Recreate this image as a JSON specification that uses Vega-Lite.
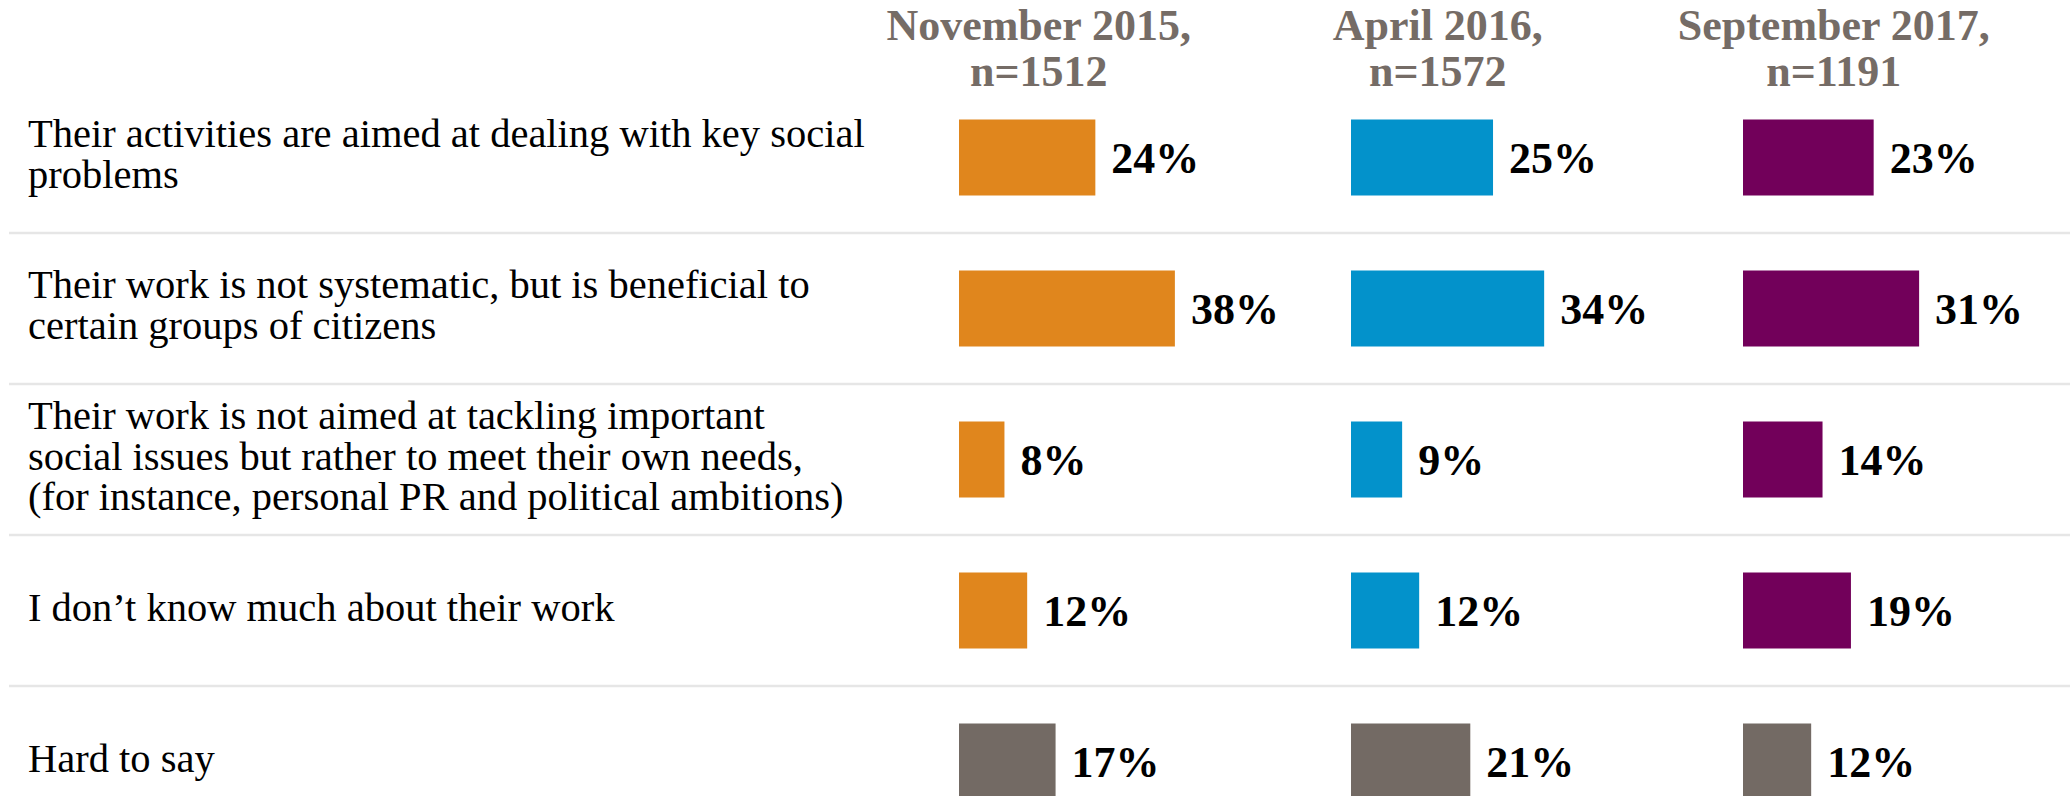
{
  "$schema": "https://vega.github.io/schema/vega-lite/v6.json",
  "padding": {"left": 7, "top": 4, "right": 0, "bottom": 0},
  "background": "white",
  "spacing": 0,
  "bounds": "flush",
  "config": {"view": {"stroke": null}, "concat": {"spacing": 0}},
  "datasets": {
    "bars": [
      {"wave": "Nov 2015", "category": "Their activities are aimed at dealing with key social problems", "value": 0.24},
      {"wave": "Nov 2015", "category": "Their work is not systematic, but is beneficial to certain groups of citizens", "value": 0.38},
      {"wave": "Nov 2015", "category": "Their work is not aimed at tackling important social issues but rather to meet their own needs, (for instance, personal PR and political ambitions)", "value": 0.08},
      {"wave": "Nov 2015", "category": "I don’t know much about their work", "value": 0.12},
      {"wave": "Nov 2015", "category": "Hard to say", "value": 0.17},
      {"wave": "Apr 2016", "category": "Their activities are aimed at dealing with key social problems", "value": 0.25},
      {"wave": "Apr 2016", "category": "Their work is not systematic, but is beneficial to certain groups of citizens", "value": 0.34},
      {"wave": "Apr 2016", "category": "Their work is not aimed at tackling important social issues but rather to meet their own needs, (for instance, personal PR and political ambitions)", "value": 0.09},
      {"wave": "Apr 2016", "category": "I don’t know much about their work", "value": 0.12},
      {"wave": "Apr 2016", "category": "Hard to say", "value": 0.21},
      {"wave": "Sep 2017", "category": "Their activities are aimed at dealing with key social problems", "value": 0.23},
      {"wave": "Sep 2017", "category": "Their work is not systematic, but is beneficial to certain groups of citizens", "value": 0.31},
      {"wave": "Sep 2017", "category": "Their work is not aimed at tackling important social issues but rather to meet their own needs, (for instance, personal PR and political ambitions)", "value": 0.14},
      {"wave": "Sep 2017", "category": "I don’t know much about their work", "value": 0.19},
      {"wave": "Sep 2017", "category": "Hard to say", "value": 0.12}
    ],
    "labels": [
      {"category": "Their activities are aimed at dealing with key social problems", "lines": ["Their activities are aimed at dealing with key social", "problems"]},
      {"category": "Their work is not systematic, but is beneficial to certain groups of citizens", "lines": ["Their work is not systematic, but is beneficial to", "certain groups of citizens"]},
      {"category": "Their work is not aimed at tackling important social issues but rather to meet their own needs, (for instance, personal PR and political ambitions)", "lines": ["Their work is not aimed at tackling important", "social issues but rather to meet their own needs,", "(for instance, personal PR and political ambitions)"]},
      {"category": "I don’t know much about their work", "lines": ["I don’t know much about their work"]},
      {"category": "Hard to say", "lines": ["Hard to say"]}
    ],
    "seps": [
      {"category": "Their work is not systematic, but is beneficial to certain groups of citizens"},
      {"category": "Their work is not aimed at tackling important social issues but rather to meet their own needs, (for instance, personal PR and political ambitions)"},
      {"category": "I don’t know much about their work"},
      {"category": "Hard to say"}
    ]
  },
  "hconcat": [
    {
      "width": 950,
      "height": 714.5,
      "layer": [
        {
          "data": {"name": "seps"},
          "mark": {"type": "rule", "color": "#E6E6E6", "strokeWidth": 2.5},
          "encoding": {
            "y": {"field": "category", "type": "nominal", "bandPosition": 0, "axis": null,
              "scale": {"domain": ["Their activities are aimed at dealing with key social problems", "Their work is not systematic, but is beneficial to certain groups of citizens", "Their work is not aimed at tackling important social issues but rather to meet their own needs, (for instance, personal PR and political ambitions)", "I don’t know much about their work", "Hard to say"], "range": [0, 755], "paddingInner": 0, "paddingOuter": 0}}
          }
        },
        {
          "data": {"name": "labels"},
          "transform": [{"filter": "length(datum.lines) === 1"}],
          "mark": {"type": "text", "align": "left", "baseline": "middle", "dx": 19, "dy": -2, "font": "Liberation Serif", "fontSize": 40.5, "lineHeight": 40.5, "color": "#000000"},
          "encoding": {
            "x": {"datum": 0, "type": "quantitative", "scale": {"domain": [0, 1]}, "axis": null},
            "y": {"field": "category", "type": "nominal", "axis": null},
            "text": {"field": "lines"}
          }
        },
        {
          "data": {"name": "labels"},
          "transform": [{"filter": "length(datum.lines) === 2"}],
          "mark": {"type": "text", "align": "left", "baseline": "middle", "dx": 19, "dy": -22.25, "font": "Liberation Serif", "fontSize": 40.5, "lineHeight": 40.5, "color": "#000000"},
          "encoding": {
            "x": {"datum": 0, "type": "quantitative", "scale": {"domain": [0, 1]}, "axis": null},
            "y": {"field": "category", "type": "nominal", "axis": null},
            "text": {"field": "lines"}
          }
        },
        {
          "data": {"name": "labels"},
          "transform": [{"filter": "length(datum.lines) === 3"}],
          "mark": {"type": "text", "align": "left", "baseline": "middle", "dx": 19, "dy": -42.5, "font": "Liberation Serif", "fontSize": 40.5, "lineHeight": 40.5, "color": "#000000"},
          "encoding": {
            "x": {"datum": 0, "type": "quantitative", "scale": {"domain": [0, 1]}, "axis": null},
            "y": {"field": "category", "type": "nominal", "axis": null},
            "text": {"field": "lines"}
          }
        }
      ]
    },
    {
      "width": 392,
      "height": 714.5,
      "title": {"text": ["November 2015,", "n=1512"], "anchor": "start", "align": "center", "dx": 81, "offset": -12.5, "font": "Liberation Serif", "fontSize": 44, "fontWeight": "bold", "color": "#756C66", "lineHeight": 46},
      "layer": [
        {
          "data": {"name": "seps"},
          "mark": {"type": "rule", "color": "#E6E6E6", "strokeWidth": 2.5},
          "encoding": {
            "y": {"field": "category", "type": "nominal", "bandPosition": 0, "axis": null,
              "scale": {"domain": ["Their activities are aimed at dealing with key social problems", "Their work is not systematic, but is beneficial to certain groups of citizens", "Their work is not aimed at tackling important social issues but rather to meet their own needs, (for instance, personal PR and political ambitions)", "I don’t know much about their work", "Hard to say"], "range": [0, 755], "paddingInner": 0, "paddingOuter": 0}}
          }
        },
        {
          "data": {"name": "bars"},
          "transform": [{"filter": "datum.wave === 'Nov 2015'"}],
          "mark": {"type": "bar", "height": 76, "clip": true},
          "encoding": {
            "y": {"field": "category", "type": "nominal", "axis": null},
            "x": {"field": "value", "type": "quantitative", "axis": null, "scale": {"domain": [0, 0.69], "nice": false}},
            "color": {"condition": {"test": "datum.category === 'Hard to say'", "value": "#736A64"}, "value": "#E0861D"}
          }
        },
        {
          "data": {"name": "bars"},
          "transform": [{"filter": "datum.wave === 'Nov 2015'"}],
          "mark": {"type": "text", "align": "left", "baseline": "middle", "dx": 16, "dy": 2, "font": "Liberation Serif", "fontSize": 44, "fontWeight": "bold", "color": "#000000"},
          "encoding": {
            "y": {"field": "category", "type": "nominal", "axis": null},
            "x": {"field": "value", "type": "quantitative", "axis": null},
            "text": {"field": "value", "type": "quantitative", "format": ".0%"}
          }
        }
      ]
    },
    {
      "width": 392,
      "height": 714.5,
      "title": {"text": ["April 2016,", "n=1572"], "anchor": "start", "align": "center", "dx": 88, "offset": -12.5, "font": "Liberation Serif", "fontSize": 44, "fontWeight": "bold", "color": "#756C66", "lineHeight": 46},
      "layer": [
        {
          "data": {"name": "seps"},
          "mark": {"type": "rule", "color": "#E6E6E6", "strokeWidth": 2.5},
          "encoding": {
            "y": {"field": "category", "type": "nominal", "bandPosition": 0, "axis": null,
              "scale": {"domain": ["Their activities are aimed at dealing with key social problems", "Their work is not systematic, but is beneficial to certain groups of citizens", "Their work is not aimed at tackling important social issues but rather to meet their own needs, (for instance, personal PR and political ambitions)", "I don’t know much about their work", "Hard to say"], "range": [0, 755], "paddingInner": 0, "paddingOuter": 0}}
          }
        },
        {
          "data": {"name": "bars"},
          "transform": [{"filter": "datum.wave === 'Apr 2016'"}],
          "mark": {"type": "bar", "height": 76, "clip": true},
          "encoding": {
            "y": {"field": "category", "type": "nominal", "axis": null},
            "x": {"field": "value", "type": "quantitative", "axis": null, "scale": {"domain": [0, 0.69], "nice": false}},
            "color": {"condition": {"test": "datum.category === 'Hard to say'", "value": "#736A64"}, "value": "#0392CB"}
          }
        },
        {
          "data": {"name": "bars"},
          "transform": [{"filter": "datum.wave === 'Apr 2016'"}],
          "mark": {"type": "text", "align": "left", "baseline": "middle", "dx": 16, "dy": 2, "font": "Liberation Serif", "fontSize": 44, "fontWeight": "bold", "color": "#000000"},
          "encoding": {
            "y": {"field": "category", "type": "nominal", "axis": null},
            "x": {"field": "value", "type": "quantitative", "axis": null},
            "text": {"field": "value", "type": "quantitative", "format": ".0%"}
          }
        }
      ]
    },
    {
      "width": 329,
      "height": 714.5,
      "title": {"text": ["September 2017,", "n=1191"], "anchor": "start", "align": "center", "dx": 92, "offset": -12.5, "font": "Liberation Serif", "fontSize": 44, "fontWeight": "bold", "color": "#756C66", "lineHeight": 46},
      "layer": [
        {
          "data": {"name": "seps"},
          "mark": {"type": "rule", "color": "#E6E6E6", "strokeWidth": 2.5},
          "encoding": {
            "y": {"field": "category", "type": "nominal", "bandPosition": 0, "axis": null,
              "scale": {"domain": ["Their activities are aimed at dealing with key social problems", "Their work is not systematic, but is beneficial to certain groups of citizens", "Their work is not aimed at tackling important social issues but rather to meet their own needs, (for instance, personal PR and political ambitions)", "I don’t know much about their work", "Hard to say"], "range": [0, 755], "paddingInner": 0, "paddingOuter": 0}}
          }
        },
        {
          "data": {"name": "bars"},
          "transform": [{"filter": "datum.wave === 'Sep 2017'"}],
          "mark": {"type": "bar", "height": 76, "clip": true},
          "encoding": {
            "y": {"field": "category", "type": "nominal", "axis": null},
            "x": {"field": "value", "type": "quantitative", "axis": null, "scale": {"domain": [0, 0.5791], "nice": false}},
            "color": {"condition": {"test": "datum.category === 'Hard to say'", "value": "#736A64"}, "value": "#72005A"}
          }
        },
        {
          "data": {"name": "bars"},
          "transform": [{"filter": "datum.wave === 'Sep 2017'"}],
          "mark": {"type": "text", "align": "left", "baseline": "middle", "dx": 16, "dy": 2, "font": "Liberation Serif", "fontSize": 44, "fontWeight": "bold", "color": "#000000"},
          "encoding": {
            "y": {"field": "category", "type": "nominal", "axis": null},
            "x": {"field": "value", "type": "quantitative", "axis": null},
            "text": {"field": "value", "type": "quantitative", "format": ".0%"}
          }
        }
      ]
    }
  ]
}
